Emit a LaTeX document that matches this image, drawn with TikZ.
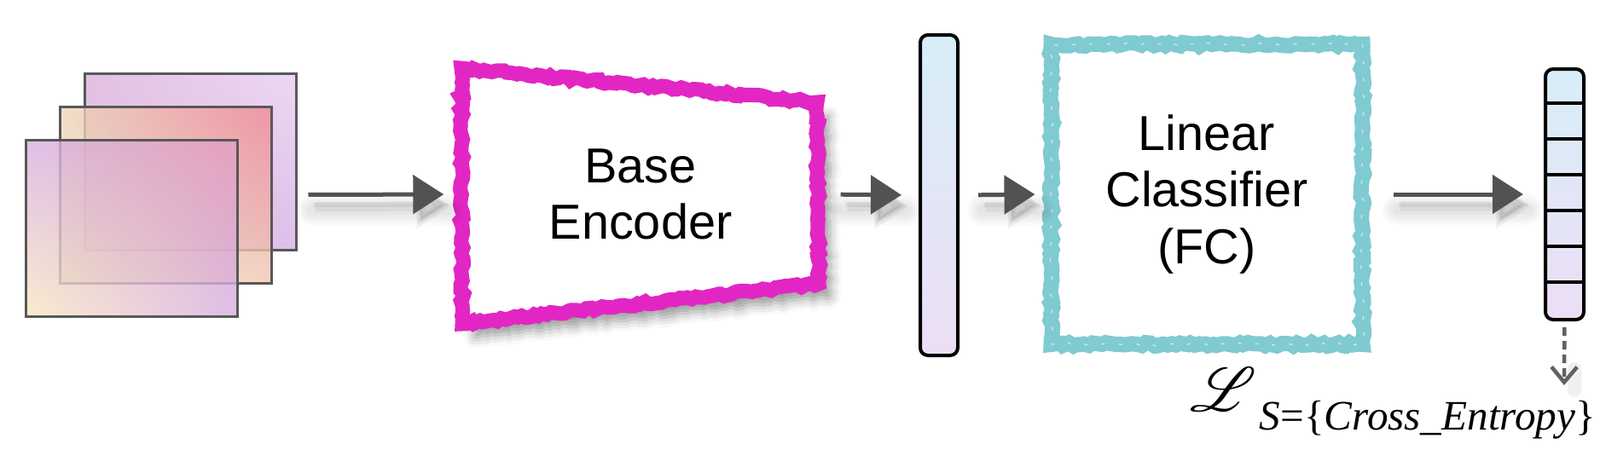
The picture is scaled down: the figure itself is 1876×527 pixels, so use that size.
\documentclass[tikz,border=0pt]{standalone}
\usepackage{mathrsfs}
\usepackage[no-math]{fontspec}
\setmainfont{Liberation Sans}
\newfontfamily\lossfont{Liberation Serif}
\usepackage{tikz}
\usetikzlibrary{arrows.meta, positioning, calc, shadings, decorations.pathmorphing, shadows.blur}

\definecolor{framegray}{RGB}{88,88,88}
\definecolor{arrowgray}{RGB}{82,82,82}
\definecolor{encmag}{RGB}{226,38,196}
\definecolor{clsteal}{RGB}{128,202,210}
\definecolor{vectop}{RGB}{216,238,248}
\definecolor{vecbot}{RGB}{236,222,246}

\begin{document}
\begin{tikzpicture}[
    x=0.1mm, y=0.1mm,
    % input images
    imgframe/.style={draw=framegray, line width=0.3mm, minimum width=24.9mm, minimum height=20.7mm, inner sep=0pt, fill opacity=.8},
    % hand drawn borders
    rough/.style={decorate, decoration={random steps, segment length=0.5mm, amplitude=0.2mm}},
    chalk/.style={postaction={draw=white, draw opacity=.55, line width=0.15mm, dash pattern=on 0.4mm off 1.7mm, decorate, decoration={random steps, segment length=0.7mm, amplitude=0.5mm}}},
    boxtext/.style={font=\fontsize{16.4}{18.8}\selectfont, align=center, inner sep=0pt},
    % feature vectors
    vecbox/.style={draw=black, line width=0.4mm, rounded corners=0.9mm, top color=vectop, bottom color=vecbot, minimum width=4.4mm, inner sep=0pt},
    softshade/.style={preaction={draw=black, draw opacity=.018, line width=#1, -, line cap=round, transform canvas={xshift=0.5mm, yshift=-1.8mm}}},
    flow/.style={draw=arrowgray, line width=0.5mm, -{Triangle[length=3.6mm, width=4.5mm]},
        softshade=3.6mm, softshade=3mm, softshade=2.4mm, softshade=1.8mm, softshade=1.2mm,
        preaction={draw=black, opacity=.05, line width=1.2mm, -{Triangle[length=4mm, width=5mm]}, transform canvas={xshift=0.8mm, yshift=-1.4mm}},
        preaction={draw=black, opacity=.06, line width=0.5mm, -{Triangle[length=3.6mm, width=4.5mm]}, transform canvas={xshift=0.6mm, yshift=-1.2mm}}},
    lossflow/.style={draw=black!62, line width=0.45mm, dash pattern=on 1mm off 0.6mm, -{Straight Barb[length=1.8mm, width=3mm]},
        preaction={draw=black, opacity=.06, line width=1.6mm, -, line cap=round, transform canvas={xshift=1.2mm, yshift=-0.6mm}, shorten <=5mm}}
]
\useasboundingbox (0,0) rectangle (1876,-527);

% images
\node[imgframe, upper left={rgb,255:red,219;green,176;blue,219}, upper right={rgb,255:red,231;green,206;blue,241},
      lower left={rgb,255:red,220;green,180;blue,222}, lower right={rgb,255:red,214;green,174;blue,226},
      shading=bilinear interpolation] (img3) at (223.5,-189.5) {};
\node[imgframe, upper left={rgb,255:red,239;green,214;blue,186}, upper right={rgb,255:red,239;green,136;blue,149},
      lower left={rgb,255:red,225;green,228;blue,180}, lower right={rgb,255:red,241;green,201;blue,181},
      shading=bilinear interpolation] (img2) at (194.5,-228.5) {};
\node[imgframe, upper left={rgb,255:red,214;green,176;blue,224}, upper right={rgb,255:red,228;green,160;blue,196},
      lower left={rgb,255:red,249;green,231;blue,193}, lower right={rgb,255:red,213;green,174;blue,226},
      shading=bilinear interpolation] (img1) at (154.5,-268) {};

% encoder
\coordinate (encc) at (751,-228);
\draw[encmag, line width=1.7mm, line join=miter, fill=white, rough,
      blur shadow={shadow xshift=1.4mm, shadow yshift=-1.6mm, shadow blur radius=1.2mm, shadow opacity=40}]
    ($(encc)+(-210,148)$) -- ($(encc)+(207,108)$) -- ($(encc)+(209,-105)$) -- ($(encc)+(-209,-152)$) -- cycle;
\node[boxtext, minimum width=42mm, minimum height=30mm] (enc) at (encc) {Base\\Encoder};

% features
\node[vecbox, minimum height=37.6mm] (feat) at (1101,-229) {};

% classifier
\node[boxtext, draw=clsteal, line width=1.8mm, rough, chalk, minimum width=36.5mm, minimum height=35.2mm] (cls) at (1415,-228) {Linear\\Classifier\\(FC)};

% output
\node[vecbox, minimum height=29.4mm, minimum width=4.5mm] (outvec) at (1834.5,-228) {};
\foreach \i in {1,...,6}
    \draw[line width=0.35mm] ($(outvec.north west)+(0,-\i*42)$) -- ++(45,0);

\node[anchor=base west, inner sep=0pt] (loss) at (1395,-482)
    {\fontsize{20}{24}\selectfont$\mathscr{L}$\kern1pt\raisebox{-6.5pt}{\fontsize{14}{16}\selectfont\lossfont\itshape S\upshape=\{\itshape Cross\_Entropy\upshape\}}};
\coordinate (lossin) at (1834,-452);

% arrows
\draw[flow, shorten <=1.2mm, shorten >=2mm] (img3.east |- img2.center) -- (enc.west);
\draw[flow, shorten <=2.4mm, shorten >=2mm] (enc.east) -- (feat.west);
\draw[flow, shorten <=2.2mm, shorten >=1mm] (feat.east) -- (cls.west);
\draw[flow, shorten <=2.7mm, shorten >=2.4mm] (cls.east) -- (outvec.west);
\draw[lossflow, shorten <=0.7mm] (outvec.south) -- (lossin);

\end{tikzpicture}
\end{document}
